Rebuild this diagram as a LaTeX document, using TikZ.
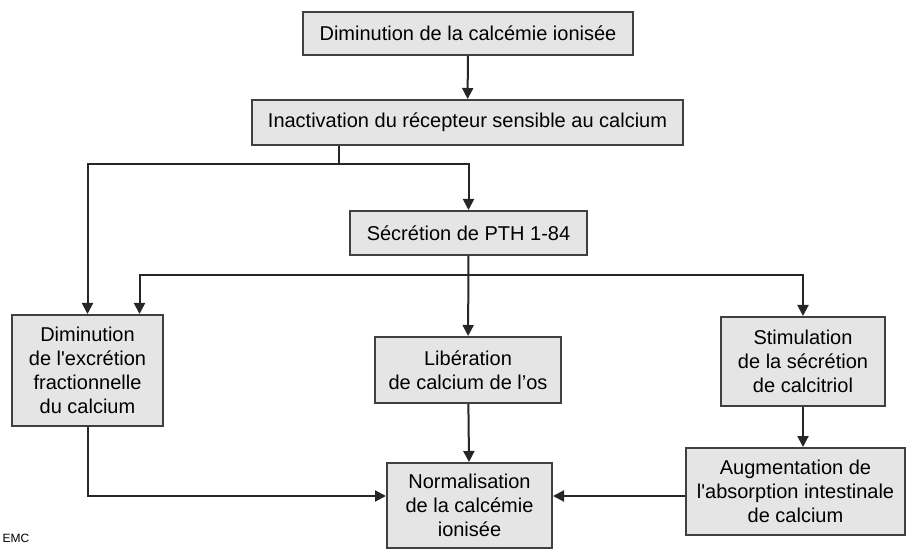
\documentclass[tikz,border=0pt]{standalone}
\usepackage{fontspec}
\setmainfont{Liberation Sans}
\usetikzlibrary{arrows.meta}

\begin{document}
\begin{tikzpicture}[x=0.5pt, y=-0.5pt,
  box/.style={draw=black!75, fill=black!10, line width=1pt, align=center,
    inner sep=0pt, font=\fontsize{10}{12}\selectfont},
  link/.style={line width=1pt, draw=black!85},
  arr/.style={link, -{Triangle[length=5.5pt, width=5.5pt]}}]
\useasboundingbox (0,0) rectangle (909,550);

\node [box, minimum width=165pt, minimum height=21.5pt] (dim) at (468,33.5) {Diminution de la calcémie ionisée};
\node [box, minimum width=215.5pt, minimum height=22.5pt] (inact) at (467.5,122.5) {Inactivation du récepteur sensible au calcium};
\node [box, minimum width=118.5pt, minimum height=22pt] (pth) at (468.5,233) {Sécrétion de PTH 1-84};

\node [box, minimum width=75.5pt, minimum height=55.5pt] (exc) at (87.5,370.5) {Diminution\\de l\textquotesingle excrétion\\fractionnelle\\du calcium};
\node [box, minimum width=93pt, minimum height=33pt] (lib) at (468,370) {Libération\\de calcium de l’os};
\node [box, minimum width=82pt, minimum height=44.5pt] (stim) at (803,361.5) {Stimulation\\de la sécrétion\\de calcitriol};

\node [box, minimum width=82.5pt, minimum height=42.5pt] (norm) at (469.5,505.5) {Normalisation\\de la calcémie\\ionisée};
\node [box, minimum width=109.5pt, minimum height=43.5pt] (aug) at (795.5,491.5) {Augmentation de\\l\textquotesingle absorption intestinale\\de calcium};

\node [font=\fontsize{6}{6}\selectfont, inner sep=0pt] (emc) at (16,538) {EMC};

\coordinate (bus1) at (339,164);
\coordinate (bus2) at (468,275);
\coordinate (mid) at (469,496);

\draw [arr] (dim) -- (inact);
\draw [link] (inact.south -| bus1) -- (bus1);
\draw [arr] (bus1) -| (exc.north);
\draw [arr] (bus1) -| (pth.north);

\draw [arr] (pth) -- (lib);
\draw [arr] (bus2) -| ([xshift=26pt]exc.north);
\draw [arr] (bus2) -| (stim.north);

\draw [arr] (lib) -- (norm);
\draw [arr] (stim.south) -- (stim.south |- aug.north);
\draw [arr] (exc.south) |- (norm.west |- mid);
\draw [arr] (aug.west |- mid) -- (norm.east |- mid);
\end{tikzpicture}
\end{document}
